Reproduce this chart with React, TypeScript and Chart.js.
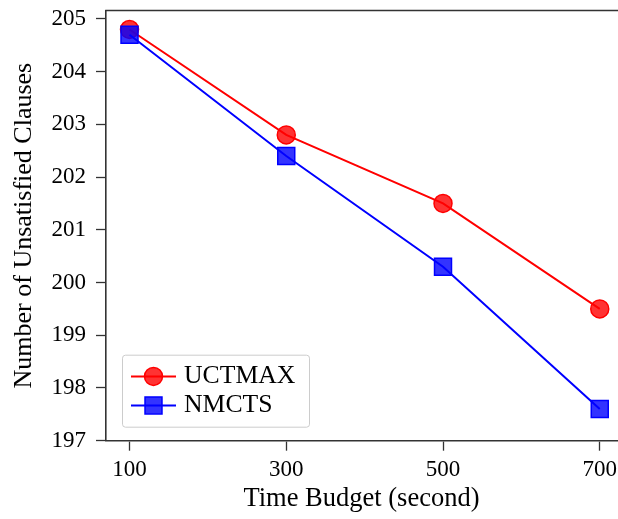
import React, { useEffect, useRef } from "react";
import { Chart, registerables } from "chart.js";

Chart.register(...registerables);

const timeBudgets = [100, 300, 500, 700];
const uctmaxValues = [204.8, 202.8, 201.5, 199.5];
const nmctsValues = [204.7, 202.4, 200.3, 197.6];
const xTickValues = [100, 300, 500, 700];
const yTickValues = [197, 198, 199, 200, 201, 202, 203, 204, 205];
const seriesLabels = ["UCTMAX", "NMCTS"];
const xTitle = "Time Budget (second)";
const yTitle = "Number of Unsatisfied Clauses";

const FONT = "'Liberation Serif', 'Times New Roman', serif";
const SPINE = "#333333";

const topSpinePlugin = {
  id: "topSpine",
  afterDraw(chart: any) {
    const { ctx, chartArea } = chart;
    ctx.save();
    ctx.strokeStyle = SPINE;
    ctx.lineWidth = 1.6;
    ctx.beginPath();
    ctx.moveTo(chartArea.left - 0.8, chartArea.top);
    ctx.lineTo(chartArea.right + 2, chartArea.top);
    ctx.stroke();
    ctx.restore();
  },
};

const insideLegendPlugin = {
  id: "insideLegend",
  afterDatasetsDraw(chart: any) {
    const { ctx, chartArea } = chart;
    const w = 187;
    const h = 72;
    const x0 = chartArea.left + 16;
    const y0 = chartArea.bottom - 14 - h;
    ctx.save();
    ctx.fillStyle = "rgba(255,255,255,0.8)";
    ctx.strokeStyle = "#cccccc";
    ctx.lineWidth = 1;
    ctx.beginPath();
    (ctx as any).roundRect(x0 + 0.5, y0 + 0.5, w, h, 3);
    ctx.fill();
    ctx.stroke();
    chart.data.datasets.forEach((ds: any, i: number) => {
      const cy = y0 + 21.7 + i * 29;
      const lx0 = x0 + 9;
      const lx1 = x0 + 54;
      const mx = (lx0 + lx1) / 2;
      ctx.strokeStyle = ds.borderColor;
      ctx.lineWidth = ds.borderWidth;
      ctx.beginPath();
      ctx.moveTo(lx0, cy);
      ctx.lineTo(lx1, cy);
      ctx.stroke();
      ctx.fillStyle = ds.pointBackgroundColor;
      ctx.strokeStyle = ds.pointBorderColor;
      ctx.lineWidth = ds.pointBorderWidth;
      ctx.beginPath();
      if (ds.pointStyle === "rect") {
        const s = Math.SQRT1_2 * ds.pointRadius;
        ctx.rect(mx - s, cy - s, 2 * s, 2 * s);
      } else {
        ctx.arc(mx, cy, ds.pointRadius, 0, Math.PI * 2);
      }
      ctx.fill();
      ctx.stroke();
      ctx.fillStyle = "#000";
      ctx.font = `25.7px ${FONT}`;
      ctx.textBaseline = "middle";
      ctx.textAlign = "left";
      ctx.fillText(ds.label, x0 + 62, cy);
    });
    ctx.restore();
  },
};

export default function App() {
  const canvasRef = useRef<HTMLCanvasElement | null>(null);

  useEffect(() => {
    const canvas = canvasRef.current;
    if (!canvas) return;
    const chart = new Chart(canvas, {
      type: "line",
      data: {
        datasets: [
          {
            label: seriesLabels[0],
            data: timeBudgets.map((x, i) => ({ x, y: uctmaxValues[i] })),
            borderColor: "#ff0000",
            borderWidth: 2,
            pointStyle: "circle",
            pointRadius: 9,
            pointHoverRadius: 9,
            pointBackgroundColor: "rgba(255,0,0,0.8)",
            pointBorderColor: "#ff0000",
            pointBorderWidth: 1.5,
            order: 2,
            tension: 0,
          },
          {
            label: seriesLabels[1],
            data: timeBudgets.map((x, i) => ({ x, y: nmctsValues[i] })),
            borderColor: "#0000ff",
            borderWidth: 2,
            pointStyle: "rect",
            pointRadius: 12,
            pointHoverRadius: 12,
            pointBackgroundColor: "rgba(0,0,255,0.8)",
            pointBorderColor: "#0000ff",
            pointBorderWidth: 1.5,
            order: 1,
            tension: 0,
          },
        ] as any,
      },
      options: {
        animation: false,
        responsive: false,
        devicePixelRatio: 1,
        layout: {
          autoPadding: false,
          padding: { left: 0, top: 10.5, right: 1, bottom: 0 },
        } as any,
        plugins: {
          legend: { display: false },
          tooltip: { enabled: false },
        },
        scales: {
          x: {
            type: "linear",
            min: 70,
            max: 722,
            afterBuildTicks: (scale: any) => {
              scale.ticks = xTickValues.map((v) => ({ value: v }));
            },
            afterFit: (scale: any) => {
              scale.height = 78.3;
              scale.paddingLeft = 0;
              scale.paddingRight = 0;
              scale.paddingTop = 0;
              scale.paddingBottom = 0;
            },
            border: { display: true, color: SPINE, width: 1.6 },
            grid: {
              display: true,
              drawOnChartArea: false,
              drawTicks: true,
              tickLength: 10,
              tickColor: SPINE,
              tickWidth: 1.3,
            },
            ticks: {
              color: "#000",
              font: { family: FONT, size: 23 },
              padding: 5,
              maxRotation: 0,
              autoSkip: false,
            },
            title: {
              display: true,
              text: xTitle,
              color: "#000",
              font: { family: FONT, size: 26.5 },
              padding: { top: 0, bottom: 4 },
            },
          },
          y: {
            type: "linear",
            min: 197,
            max: 205.16,
            afterBuildTicks: (scale: any) => {
              scale.ticks = yTickValues.map((v) => ({ value: v }));
            },
            afterFit: (scale: any) => {
              scale.width = 106;
              scale.paddingLeft = 0;
              scale.paddingRight = 0;
              scale.paddingTop = 0;
              scale.paddingBottom = 0;
            },
            border: { display: true, color: SPINE, width: 1.6 },
            grid: {
              display: true,
              drawOnChartArea: false,
              drawTicks: true,
              tickLength: 10,
              tickColor: SPINE,
              tickWidth: 1.3,
            },
            ticks: {
              color: "#000",
              font: { family: FONT, size: 23 },
              padding: 10,
              autoSkip: false,
            },
            title: {
              display: true,
              text: yTitle,
              color: "#000",
              font: { family: FONT, size: 26 },
              padding: { top: 9, bottom: 0 },
            },
          },
        },
      } as any,
      plugins: [insideLegendPlugin, topSpinePlugin],
    });
    return () => chart.destroy();
  }, []);

  return (
    <div style={{ position: "fixed", left: 0, top: 0, width: 618, height: 519, background: "#fff" }}>
      <canvas ref={canvasRef} width={618} height={519} />
    </div>
  );
}
